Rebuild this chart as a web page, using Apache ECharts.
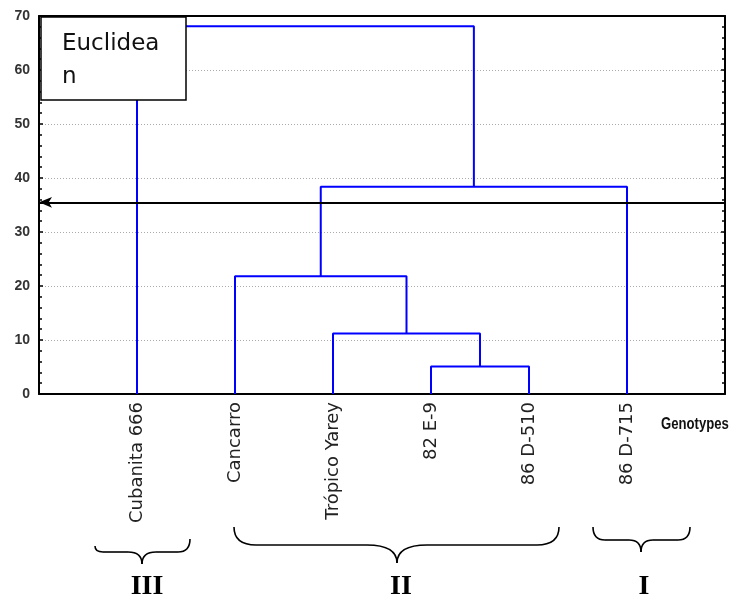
<!DOCTYPE html>
<html><head><meta charset="utf-8">
<script src="https://cdn.jsdelivr.net/npm/echarts@6/dist/echarts.min.js"></script>
<style>html,body{margin:0;padding:0;background:#fff}#c{width:732px;height:601px}</style>
</head><body><div id="c"></div>
<script>
// ---- data ----
const leaves = ['Cubanita 666', 'Cancarro', 'Trópico Yarey', '82 E-9', '86 D-510', '86 D-715'];
const leafPos = [1, 2, 3, 4, 5, 6];
// merges: nodes 0-5 are leaves, node 6+i is the cluster made by merge i
const mergeLeft = [3, 2, 1, 8, 0];
const mergeRight = [4, 6, 7, 5, 9];
const mergeHeight = [5.1, 11.2, 21.8, 38.4, 68.1];
const cutHeight = 35.5;
const yTicks = [0, 10, 20, 30, 40, 50, 60, 70];
const groupLabels = ['III', 'II', 'I'];
const axisTitle = 'Genotypes';

// ---- build dendrogram links ----
const nodeX = leafPos.slice();
const nodeH = leaves.map(() => 0);
const linkSeries = [];
mergeHeight.forEach((h, i) => {
  const l = mergeLeft[i], r = mergeRight[i];
  linkSeries.push({
    type: 'line', symbol: 'none', silent: true, animation: false,
    lineStyle: { color: '#0000ff', width: 2 },
    data: [[nodeX[l], nodeH[l]], [nodeX[l], h], [nodeX[r], h], [nodeX[r], nodeH[r]]]
  });
  nodeX.push((nodeX[l] + nodeX[r]) / 2);
  nodeH.push(h);
});
linkSeries[0].markLine = {
  silent: true, animation: false,
  symbol: ['arrow', 'none'], symbolSize: [8, 13],
  label: { show: false },
  itemStyle: { color: '#000' },
  lineStyle: { color: '#000', width: 2, type: 'solid' },
  data: [{ yAxis: cutHeight }]
};

// ---- braces (annotations) ----
function brace(L, R, C, topL, topR, h, pt, rl, rr, rm) {
  const st = { stroke: '#000', lineWidth: 1.6, fill: null };
  return [
    { type: 'bezierCurve', shape: { x1: L, y1: topL, cpx1: L, cpy1: h, x2: L + rl, y2: h }, style: st },
    { type: 'line', shape: { x1: L + rl, y1: h, x2: C - rm, y2: h }, style: st },
    { type: 'bezierCurve', shape: { x1: C - rm, y1: h, cpx1: C, cpy1: h, x2: C, y2: pt }, style: st },
    { type: 'bezierCurve', shape: { x1: C, y1: pt, cpx1: C, cpy1: h, x2: C + rm, y2: h }, style: st },
    { type: 'line', shape: { x1: C + rm, y1: h, x2: R - rr, y2: h }, style: st },
    { type: 'bezierCurve', shape: { x1: R - rr, y1: h, cpx1: R, cpy1: h, x2: R, y2: topR }, style: st }
  ];
}
const romanStyle = { fontSize: 28, fontWeight: 'bold', fontFamily: "'Liberation Serif', 'DejaVu Serif', serif", fill: '#000', align: 'center', verticalAlign: 'middle' };
const graphics = [].concat(
  brace(95, 190, 142, 546, 539, 552, 564, 8, 12, 14),
  brace(234, 559, 397, 527, 527, 545, 563, 22, 22, 30),
  brace(593, 690, 641, 527, 527, 540, 552, 12, 12, 12),
  [
    { type: 'text', x: 147, y: 587, style: Object.assign({ text: groupLabels[0] }, romanStyle) },
    { type: 'text', x: 401, y: 587, style: Object.assign({ text: groupLabels[1] }, romanStyle) },
    { type: 'text', x: 644, y: 587, style: Object.assign({ text: groupLabels[2] }, romanStyle) },
    { type: 'text', x: 661, y: 425, scaleX: 0.82, style: { text: axisTitle, fontSize: 16, fontWeight: 'bold', fontFamily: "'Liberation Sans', Arial, sans-serif", fill: '#111', align: 'left', verticalAlign: 'middle' } },
    { type: 'rect', z: 100, shape: { x: 41, y: 17, width: 145, height: 83 }, style: { fill: '#fff', stroke: '#000', lineWidth: 1.5 } },
    { type: 'text', z: 101, x: 62, y: 44, style: { text: 'Euclidea', fontSize: 23, fontFamily: "'DejaVu Sans', sans-serif", fill: '#111', verticalAlign: 'middle' } },
    { type: 'text', z: 101, x: 62, y: 77, style: { text: 'n', fontSize: 23, fontFamily: "'DejaVu Sans', sans-serif", fill: '#111', verticalAlign: 'middle' } }
  ]
);

const chart = echarts.init(document.getElementById('c'), null, { renderer: 'canvas' });
const yBase = {
  type: 'value', min: yTicks[0], max: yTicks[yTicks.length - 1], interval: yTicks[1] - yTicks[0],
  axisLine: { show: true, onZero: false, lineStyle: { color: '#000', width: 2 } },
  axisTick: { show: true, inside: true, length: 4, lineStyle: { color: '#000', width: 1.5 } },
  minorTick: { show: true, splitNumber: 5, length: 3, lineStyle: { color: '#000', width: 1.5 } }
};
chart.setOption({
  animation: false,
  backgroundColor: '#fff',
  grid: { left: 39, top: 16, width: 686, height: 378 },
  xAxis: [
    {
      type: 'value', min: 0, max: leaves.length + 1, interval: 1, position: 'bottom',
      axisLine: { show: true, onZero: false, lineStyle: { color: '#000', width: 2 } },
      axisTick: { show: false }, splitLine: { show: false },
      axisLabel: {
        rotate: 90, margin: 8, fontSize: 18, fontFamily: "'DejaVu Sans', sans-serif", color: '#222',
        formatter: v => { const i = leafPos.indexOf(v); return i >= 0 ? leaves[i] : ''; }
      }
    },
    {
      type: 'value', min: 0, max: leaves.length + 1, position: 'top',
      axisLine: { show: true, onZero: false, lineStyle: { color: '#000', width: 2 } },
      axisTick: { show: false }, axisLabel: { show: false }, splitLine: { show: false }
    }
  ],
  yAxis: [
    Object.assign({}, yBase, {
      position: 'left',
      axisLabel: { margin: 9, fontSize: 14, fontWeight: 'bold', fontFamily: "'Liberation Sans', Arial, sans-serif", color: '#333' },
      splitLine: { show: true, lineStyle: { color: '#aaa', width: 1, type: [1, 2] } }
    }),
    Object.assign({}, yBase, {
      position: 'right',
      axisLabel: { show: false }, splitLine: { show: false }
    })
  ],
  series: linkSeries,
  graphic: graphics
});
</script>
</body></html>
